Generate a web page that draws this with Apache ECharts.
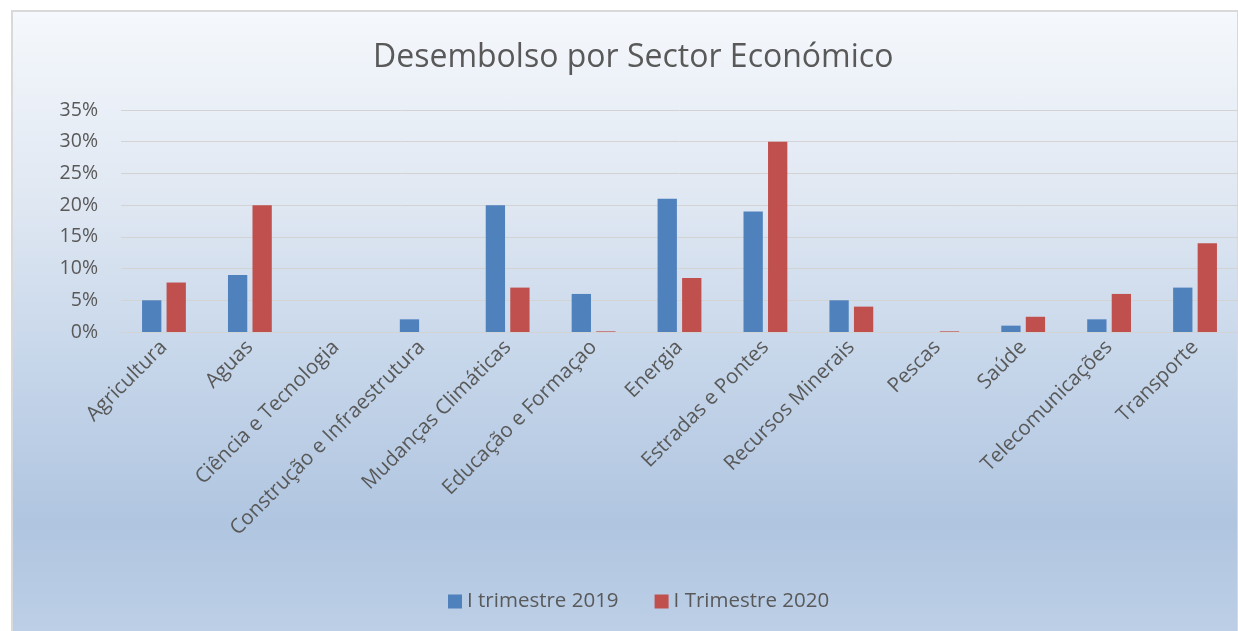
<!DOCTYPE html>
<html>
<head>
<meta charset="utf-8">
<script src="https://cdn.jsdelivr.net/npm/echarts@6/dist/echarts.min.js"></script>
<style>
  html, body { margin: 0; padding: 0; background: #ffffff; overflow: hidden; }
  #bg {
    position: absolute; left: 11px; top: 10px; width: 1224px; height: 640px;
    border-left: 2px solid #d9d9d9; border-top: 2px solid #d9d9d9; border-right: 2px solid #d9d9d9;
    background: linear-gradient(to bottom, #f5f8fc 0%, #dfe7f2 30%, #c6d6ea 55%, #b0c5e0 80%, #bfd1e8 100%);
  }
  #chart { position: absolute; left: 0; top: 0; width: 1238px; height: 631px; }
</style>
</head>
<body>
<div id="bg"></div>
<div id="chart"></div>
<script>
const title = 'Desembolso por Sector Económico';
const categories = ['Agricultura', 'Aguas', 'Ciência e Tecnologia', 'Construção e Infraestrutura',
  'Mudanças Climáticas', 'Educação e Formaçao', 'Energia', 'Estradas e Pontes',
  'Recursos Minerais', 'Pescas', 'Saúde', 'Telecomunicações', 'Transporte'];
const seriesNames = ['I trimestre 2019', 'I Trimestre 2020'];
const trimestre2019 = [5, 9, 0, 2, 20, 6, 21, 19, 5, 0, 1, 2, 7];
const trimestre2020 = [7.8, 20, 0, 0, 7, 0.1, 8.5, 30, 4, 0.1, 2.4, 6, 14];
const yMin = 0, yMax = 35, yStep = 5;

const font = "'Open Sans', 'Noto Sans', sans-serif";
const chart = echarts.init(document.getElementById('chart'), null, { renderer: 'canvas' });
chart.setOption({
  backgroundColor: 'transparent',
  animation: false,
  title: {
    text: title, left: 368, top: 37,
    textStyle: { fontFamily: font, fontSize: 32, fontWeight: 'normal', color: '#595959' }
  },
  legend: {
    data: seriesNames, top: 586, left: 443, itemWidth: 14, itemHeight: 14, itemGap: 36,
    icon: 'rect',
    textStyle: { fontFamily: font, fontSize: 20.5, color: '#595959' }
  },
  grid: { left: 121, top: 110, width: 1119, bottom: 299, containLabel: false },
  xAxis: {
    type: 'category', data: categories,
    axisLine: { lineStyle: { color: '#d3d3d3', width: 1 } },
    axisTick: { show: false },
    axisLabel: { rotate: 45, interval: 0, margin: 12, fontFamily: font, fontSize: 20.5, color: '#595959' }
  },
  yAxis: {
    type: 'value', min: yMin, max: yMax, interval: yStep,
    axisLine: { show: false }, axisTick: { show: false },
    axisLabel: { formatter: '{value}%', margin: 23, fontFamily: font, fontSize: 19.5, color: '#595959' },
    splitLine: { lineStyle: { color: '#d3d3d3', width: 1 } }
  },
  series: [
    { name: seriesNames[0], type: 'bar', data: trimestre2019, barGap: '27%', barCategoryGap: '49%',
      itemStyle: { color: '#4f81bd' } },
    { name: seriesNames[1], type: 'bar', data: trimestre2020,
      itemStyle: { color: '#c0504d' } }
  ]
});
</script>
</body>
</html>
